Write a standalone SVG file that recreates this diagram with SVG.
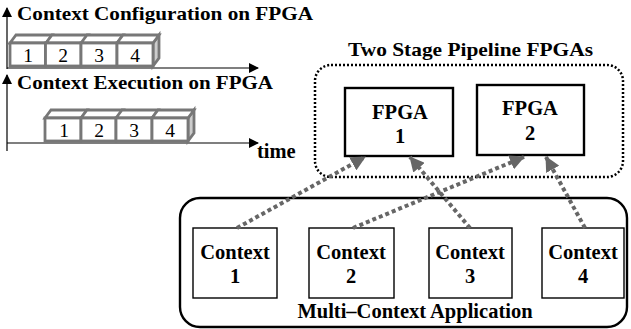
<svg xmlns="http://www.w3.org/2000/svg" width="631" height="329" viewBox="0 0 631 329">
<style>
.t{font-family:"Liberation Serif","Times New Roman",serif;font-weight:bold;font-size:20.5px;fill:#000}
.h{font-size:19px}
.d{font-family:"Liberation Serif","Times New Roman",serif;font-size:19.5px;fill:#000;text-anchor:middle}
.c{text-anchor:middle}
.ax{stroke:#000;stroke-width:1.2;fill:none}
.cf{fill:#fff;stroke:#777;stroke-width:2.8}
.cs{fill:#ccc;stroke:#777;stroke-width:2.8}
.box{fill:#fff;stroke:#000;stroke-width:1.4}
.fbox{fill:#fff;stroke:#000;stroke-width:2.4}
.con{stroke:#666;stroke-width:4;stroke-dasharray:4 3;fill:none}
</style>
<defs>
<marker id="ah" markerWidth="10" markerHeight="10" refX="9" refY="5" orient="auto" markerUnits="userSpaceOnUse" viewBox="0 0 10 10">
<path d="M0,0 L10,5 L0,10 Z" fill="#000"/>
</marker>
<marker id="ga" markerWidth="15" markerHeight="15" refX="14" refY="7.5" orient="auto" markerUnits="userSpaceOnUse" viewBox="0 0 15 15">
<path d="M0,0 L15,7.5 L0,15 Z" fill="#666"/>
</marker>
<g id="cube">
<path class="cf" d="M0,0 L6,-8 L42,-8 L36,0 Z"/>
</g>
</defs>

<g id="timeline-config">
<line class="ax" x1="7" y1="69" x2="7" y2="8" marker-end="url(#ah)"/>
<line class="ax" x1="7" y1="68" x2="258" y2="68" marker-end="url(#ah)"/>
<text class="t h" x="17" y="20" textLength="296" lengthAdjust="spacingAndGlyphs">Context Configuration on FPGA</text>
<path class="cs" d="M153,43 L159,35 L159,58 L153,66 Z"/>
<use href="#cube" x="10" y="43"/>
<use href="#cube" x="46" y="43"/>
<use href="#cube" x="81" y="43"/>
<use href="#cube" x="117" y="43"/>
<rect class="cf" x="10" y="43" width="35.5" height="23"/>
<rect class="cf" x="45.5" y="43" width="35.5" height="23"/>
<rect class="cf" x="81" y="43" width="36" height="23"/>
<rect class="cf" x="117" y="43" width="36" height="23"/>
<text class="d" x="28" y="62">1</text>
<text class="d" x="63" y="62">2</text>
<text class="d" x="99" y="62">3</text>
<text class="d" x="135" y="62">4</text>
</g>

<g id="timeline-exec">
<line class="ax" x1="7" y1="151" x2="7" y2="75" marker-end="url(#ah)"/>
<line class="ax" x1="7" y1="143" x2="258" y2="143" marker-end="url(#ah)"/>
<text class="t h" x="17" y="89" textLength="256" lengthAdjust="spacingAndGlyphs">Context Execution on FPGA</text>
<text class="t" x="257" y="158" font-size="20">time</text>
<path class="cs" d="M188,118 L194,110 L194,133 L188,141 Z"/>
<use href="#cube" x="45" y="118"/>
<use href="#cube" x="81" y="118"/>
<use href="#cube" x="116" y="118"/>
<use href="#cube" x="152" y="118"/>
<rect class="cf" x="45" y="118" width="36" height="23"/>
<rect class="cf" x="81" y="118" width="35" height="23"/>
<rect class="cf" x="116" y="118" width="36" height="23"/>
<rect class="cf" x="152" y="118" width="36" height="23"/>
<text class="d" x="64" y="137">1</text>
<text class="d" x="99" y="137">2</text>
<text class="d" x="134" y="137">3</text>
<text class="d" x="170" y="137">4</text>
</g>

<g id="pipeline">
<rect x="315" y="65" width="308" height="112" rx="16" fill="none" stroke="#000" stroke-width="2.5" stroke-dasharray="2 2"/>
<text class="t h" x="348" y="56" textLength="245" lengthAdjust="spacingAndGlyphs">Two Stage Pipeline FPGAs</text>
</g>
<g id="fpga1">
<rect class="fbox" x="345" y="88" width="108" height="68"/>
<text class="t c" x="400" y="119">FPGA</text>
<text class="t c" x="400" y="143">1</text>
</g>
<g id="fpga2">
<rect class="fbox" x="477" y="85" width="107" height="70"/>
<text class="t c" x="530" y="115">FPGA</text>
<text class="t c" x="530" y="140">2</text>
</g>

<g id="app">
<rect x="180" y="198" width="447" height="129" rx="20" fill="none" stroke="#000" stroke-width="2.4"/>
<text class="t c" x="415" y="318" font-size="21">Multi–Context Application</text>
</g>
<g id="ctx1">
<rect class="box" x="193" y="228" width="84" height="70"/>
<text class="t c" x="235" y="259">Context</text>
<text class="t c" x="235" y="283">1</text>
</g>
<g id="ctx2">
<rect class="box" x="309" y="228" width="85" height="70"/>
<text class="t c" x="351" y="259">Context</text>
<text class="t c" x="351" y="283">2</text>
</g>
<g id="ctx3">
<rect class="box" x="429" y="228" width="83" height="70"/>
<text class="t c" x="470" y="259">Context</text>
<text class="t c" x="470" y="283">3</text>
</g>
<g id="ctx4">
<rect class="box" x="542" y="228" width="82" height="70"/>
<text class="t c" x="583" y="259">Context</text>
<text class="t c" x="583" y="283">4</text>
</g>

<g id="connectors">
<line class="con" x1="237" y1="228" x2="365" y2="157" marker-end="url(#ga)"/>
<line class="con" x1="470" y1="228" x2="410" y2="157" marker-end="url(#ga)"/>
<line class="con" x1="353" y1="228" x2="524" y2="157" marker-end="url(#ga)"/>
<line class="con" x1="585" y1="228" x2="546" y2="157" marker-end="url(#ga)"/>
</g>
</svg>
